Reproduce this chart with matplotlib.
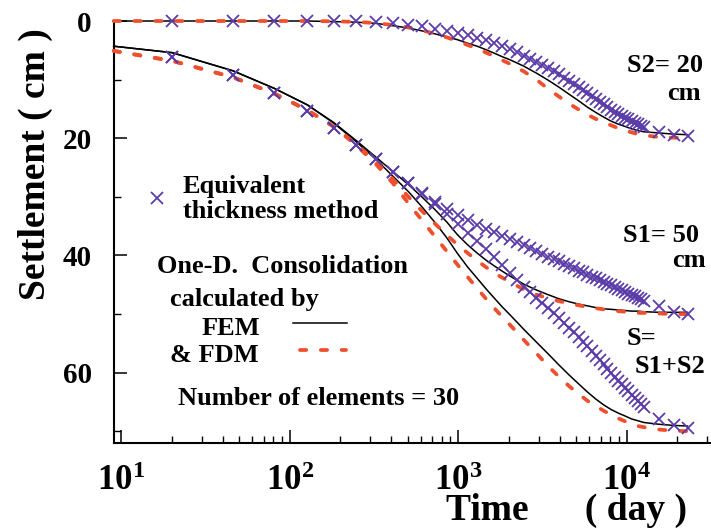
import math
import matplotlib
matplotlib.use("Agg")
import matplotlib.pyplot as plt
from matplotlib.lines import Line2D
from matplotlib.ticker import FixedLocator, FuncFormatter, NullFormatter

plt.rcParams["font.family"] = ["Liberation Serif", "DejaVu Serif"]
plt.rcParams["font.weight"] = "bold"
plt.rcParams["mathtext.fontset"] = "custom"
plt.rcParams["mathtext.rm"] = "Liberation Serif:bold"
plt.rcParams["mathtext.it"] = "Liberation Serif:bold"
plt.rcParams["mathtext.bf"] = "Liberation Serif:bold"
plt.rcParams["mathtext.default"] = "rm"
plt.rcParams["lines.scale_dashes"] = False

# ---- data -------------------------------------------------------------
# time steps (day) of the FEM / FDM solutions
t_line = [9, 20, 46, 81, 127, 182, 248, 324, 410, 506, 613, 729, 856, 992,
          1139, 1296, 1463, 1640, 1828, 2025, 2450, 2916, 3422, 3969, 4556,
          5184, 5852, 6561, 7310, 8100, 8930, 9801, 10712, 11664, 12656,
          15500, 19000, 23000]

# settlement (cm), FEM
s2_fem = [0, 0, 0, 0, 0, 0.1, 0.2, 0.4, 0.8, 1.2, 1.7, 2.2, 2.7, 3.2, 3.8,
          4.3, 4.9, 5.5, 6.1, 6.6, 7.7, 8.9, 10.1, 11.3, 12.5, 13.6, 14.7,
          15.6, 16.4, 17.1, 17.6, 18.0, 18.4, 18.7, 18.9, 19.1, 19.3, 19.4]
s1_fem = [4.3, 5.4, 8.5, 11.5, 14.3, 17.3, 20.4, 23.2, 25.7, 27.9, 30.1,
          32.2, 34.3, 36.5, 38.2, 39.6, 40.8, 41.8, 42.7, 43.5, 44.9, 45.9,
          46.7, 47.4, 47.9, 48.3, 48.6, 48.9, 49.1, 49.2, 49.3, 49.4, 49.5,
          49.5, 49.6, 49.7, 49.7, 49.7]
s_fem = [4.3, 5.4, 8.5, 11.5, 14.3, 17.4, 20.6, 23.6, 26.5, 29.1, 31.8,
         34.4, 37.0, 39.7, 42.0, 43.9, 45.7, 47.3, 48.8, 50.1, 52.6, 54.8,
         56.8, 58.7, 60.4, 61.9, 63.3, 64.5, 65.5, 66.3, 66.9, 67.4, 67.9,
         68.2, 68.5, 68.8, 69.0, 69.1]

# settlement (cm), FDM
s2_fdm = [0, 0, 0, 0, 0, 0.05, 0.15, 0.35, 0.7, 1.1, 1.6, 2.2, 2.8, 3.4, 4.1,
          4.7, 5.4, 6.0, 6.7, 7.3, 8.6, 10.0, 11.6, 12.9, 14.1, 15.1, 16.0,
          16.7, 17.3, 17.8, 18.3, 18.7, 19.0, 19.3, 19.5, 19.8, 19.9, 20.0]
s1_fdm = [5.1, 6.8, 9.6, 12.4, 15.2, 18.0, 21.0, 24.0, 27.0, 30.0, 32.5,
          34.6, 36.5, 38.2, 39.6, 40.9, 42.0, 43.0, 43.8, 44.5, 45.8, 46.7,
          47.3, 47.8, 48.2, 48.5, 48.8, 49.0, 49.2, 49.4, 49.5, 49.6, 49.7,
          49.8, 49.8, 49.9, 50.0, 50.0]
s_fdm = [5.1, 6.8, 9.6, 12.4, 15.2, 18.0, 21.2, 24.4, 27.7, 31.1, 34.1,
         36.8, 39.3, 41.6, 43.7, 45.6, 47.4, 49.0, 50.5, 51.8, 54.4, 56.7,
         58.9, 60.7, 62.3, 63.6, 64.8, 65.7, 66.5, 67.2, 67.8, 68.3, 68.7,
         69.1, 69.3, 69.7, 69.9, 70.0]

# time steps (day) of the equivalent thickness method
t_etm = [20, 46, 81, 127, 182, 248, 324, 410, 506, 613, 729, 856, 992, 1139,
         1296, 1463, 1640, 1828, 2025, 2233, 2450, 2678, 2916, 3164, 3422,
         3691, 3969, 4258, 4556, 4865, 5184, 5513, 5852, 6202, 6561, 6931,
         7310, 7700, 8100, 8510, 8930, 9360, 9801, 10251, 10712, 11183,
         11664, 12155, 12656, 15500, 19000, 23000]
s2_etm = [0, 0, 0, 0, 0, 0.05, 0.15, 0.35, 0.6, 0.9, 1.3, 1.65, 2.0, 2.4,
          2.85, 3.3, 3.75, 4.25, 4.8, 5.3, 5.9, 6.4, 7.0, 7.5, 8.0, 8.6, 9.1,
          9.7, 10.3, 10.8, 11.3, 11.8, 12.3, 12.8, 13.3, 13.8, 14.2, 14.7,
          15.1, 15.5, 15.8, 16.2, 16.5, 16.8, 17.1, 17.4, 17.6, 17.9, 18.1,
          19.0, 19.5, 19.7]
s1_etm = [6.1, 9.2, 12.3, 15.3, 18.3, 21.2, 23.6, 25.8, 27.7, 29.4, 30.9,
          32.1, 33.1, 34.0, 34.8, 35.5, 36.0, 36.6, 37.2, 37.7, 38.3, 38.8,
          39.3, 39.7, 40.2, 40.6, 41.0, 41.4, 41.8, 42.2, 42.6, 42.9, 43.3,
          43.6, 43.9, 44.2, 44.5, 44.8, 45.1, 45.4, 45.7, 45.9, 46.2, 46.5,
          46.7, 47.0, 47.2, 47.4, 47.7, 48.7, 49.6, 50.0]
s_etm = [6.1, 9.2, 12.3, 15.3, 18.3, 21.2, 23.6, 25.8, 27.7, 29.5, 31.2,
         33.0, 34.7, 36.2, 37.6, 38.9, 40.3, 41.7, 43.0, 44.2, 45.3, 46.3,
         47.2, 48.1, 49.0, 49.8, 50.6, 51.5, 52.3, 53.1, 53.9, 54.7, 55.5,
         56.3, 57.1, 57.9, 58.6, 59.3, 60.0, 60.7, 61.4, 62.0, 62.6, 63.2,
         63.8, 64.4, 64.9, 65.4, 65.9, 67.9, 69.0, 69.5]

x_major = [10, 100, 1000, 10000]
y_major = [0, 20, 40, 60]
y_minor = [10, 30, 50, 70]

# ---- style ------------------------------------------------------------
PURPLE = "#5b3ca8"
RED = "#ef4f2d"
fem_style = dict(color="black", lw=1.1, clip_on=False, zorder=3)
fdm_style = dict(color=RED, lw=2.7, dashes=(4.5, 10.5),
                 dash_capstyle="round", clip_on=False, zorder=4)
etm_style = dict(ls="none", marker="x", ms=8, mew=1.3, color=PURPLE,
                 clip_on=False, zorder=5)

W, H = 711, 530
fig = plt.figure(figsize=(W / 100, H / 100), dpi=100)
ax = fig.add_axes([114 / W, 87 / H, 597 / W, 422 / H])


def fx(px):
    return px / W


def fy(py):
    return 1 - py / H


for s in (s2_fem, s1_fem, s_fem):
    ax.plot(t_line, s, **fem_style)
for s in (s2_fdm, s1_fdm, s_fdm):
    ax.plot(t_line, s, **fdm_style)
for s in (s2_etm, s1_etm, s_etm):
    ax.plot(t_etm, s, **etm_style)

ax.set_xscale("log")
ax.set_xlim(9.04, 31700)
ax.set_ylim(72, 0)

for side in ("top", "right"):
    ax.spines[side].set_visible(False)
for side in ("left", "bottom"):
    ax.spines[side].set_linewidth(1.5)

ax.xaxis.set_major_locator(FixedLocator(x_major))
ax.xaxis.set_minor_locator(FixedLocator(
    [m * d for d in (10, 100, 1000, 10000) for m in range(2, 10)
     if m * d < 31700]))
ax.xaxis.set_major_formatter(FuncFormatter(
    lambda v, p: r"$10^{%d}$" % round(math.log10(v))))
ax.xaxis.set_minor_formatter(NullFormatter())
ax.yaxis.set_major_locator(FixedLocator(y_major))
ax.yaxis.set_minor_locator(FixedLocator(y_minor))

ax.tick_params(which="major", direction="in", length=9.5, width=1.1)
ax.tick_params(which="minor", direction="in", length=5, width=1.0)
ax.tick_params(axis="x", which="major", labelsize=25, pad=16)
ax.tick_params(axis="y", which="major", labelsize=21, pad=16)

ax.set_ylabel("Settlement ( cm )", fontsize=27, fontweight="bold",
              va="baseline")
ax.yaxis.set_label_coords((45 - 114) / 597, (443 - 164) / 422)
ax.set_xlabel("Time      ( day )", fontsize=27, fontweight="bold",
              va="baseline")
ax.xaxis.set_label_coords((567 - 114) / 597, (443 - 520) / 422)

# curve annotations
notes = [
    ("S2= 20", 627, 72), ("cm", 667, 100),
    ("S1= 50", 623, 242), ("cm", 672, 267),
    ("S=", 627, 345), ("S1+S2", 635, 373),
    ("Equivalent", 183, 193), ("thickness method", 183, 218),
    ("One-D.  Consolidation", 157, 273), ("calculated by", 170, 306),
    ("FEM", 202, 335), ("& FDM", 170, 362),
    ("Number of elements = 30", 178, 405),
]
for text, x, y in notes:
    fig.text(fx(x), fy(y), text, fontsize=19, fontweight="bold",
             ha="left", va="baseline")

# key samples
fig.add_artist(Line2D([fx(157)], [fy(198)], **etm_style))
fig.add_artist(Line2D([fx(293), fx(347)], [fy(323), fy(323)], **fem_style))
fig.add_artist(Line2D([fx(300), fx(346)], [fy(350), fy(350)], **fdm_style))

fig.savefig("out.png", dpi=100)
